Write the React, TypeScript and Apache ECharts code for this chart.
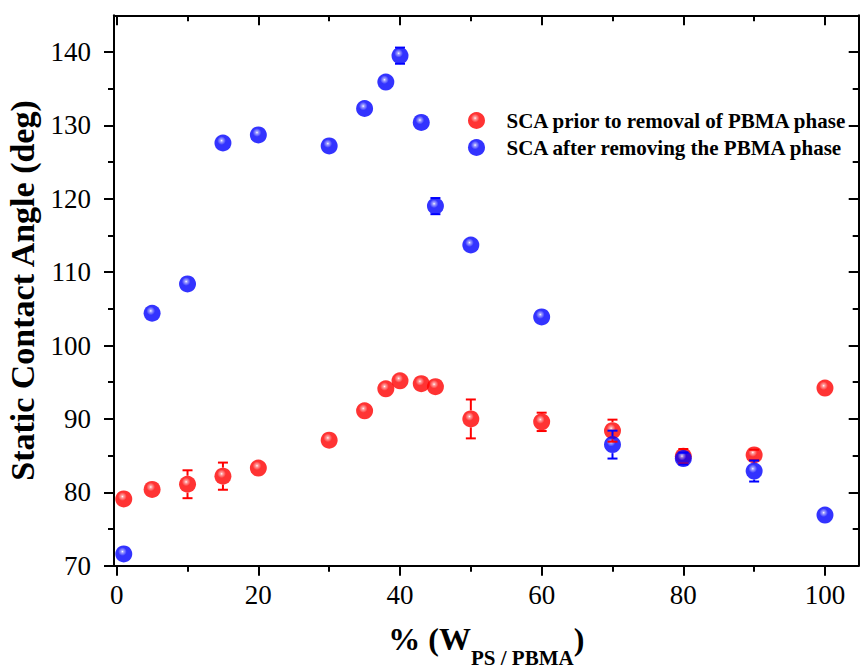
import React, { useEffect, useRef } from "react";
import * as echarts from "echarts";

// ---- data ----
const xValues = [1, 5, 10, 15, 20, 30, 35, 38, 40, 43, 45, 50, 60, 70, 80, 90, 100];
const redValues = [79.1, 80.4, 81.1, 82.2, 83.3, 87.1, 91.1, 94.1, 95.2, 94.8, 94.4, 90.0, 89.6, 88.4, 84.9, 85.1, 94.2];
const redErrors = [0, 0, 1.9, 1.85, 0, 0, 0, 0, 0, 0, 0, 2.65, 1.25, 1.5, 1.0, 0.7, 0];
const blueValues = [71.6, 104.4, 108.4, 127.6, 128.7, 127.2, 132.3, 135.9, 139.5, 130.4, 119.0, 113.7, 103.9, 86.5, 84.6, 82.9, 76.9];
const blueErrors = [0, 0, 0, 0, 0, 0, 0, 0, 1.1, 0, 1.1, 0, 0, 1.9, 0.8, 1.43, 0];

const xMajorTicks = [0, 20, 40, 60, 80, 100];
const xMinorTicks = [10, 30, 50, 70, 90];
const yMajorTicks = [70, 80, 90, 100, 110, 120, 130, 140];
const yMinorTicks = [75, 85, 95, 105, 115, 125, 135];

const redName = "SCA prior to removal of PBMA phase";
const blueName = "SCA after removing the PBMA phase";

const FONT = "'Liberation Serif', 'Times New Roman', serif";
const X_MIN = -0.38;
const X_MAX = 104.76;
const Y_MIN = 70;
const Y_MAX = 145;

const ball = (base: string, light: string) =>
  new echarts.graphic.RadialGradient(0.42, 0.36, 0.6, [
    { offset: 0, color: "#ffffff" },
    { offset: 0.12, color: light },
    { offset: 0.42, color: base },
    { offset: 1, color: base },
  ]);

const MARKER = 17;

function errorSeries(name: string, values: number[], errors: number[], color: string) {
  return {
    type: "custom",
    name: name + " error",
    silent: true,
    z: 5,
    data: xValues.map((x, i) => [x, values[i] - errors[i], values[i] + errors[i], values[i], errors[i]]),
    encode: { x: 0, y: [1, 2] },
    renderItem: (_params: any, api: any) => {
      const err = api.value(4);
      if (!err) return { type: "group", children: [] };
      const x = api.value(0);
      const lo = api.coord([x, api.value(1)]);
      const hi = api.coord([x, api.value(2)]);
      const c = api.coord([x, api.value(3)]);
      const hw = 5;
      const r = MARKER / 2;
      const style = { stroke: color, lineWidth: 2 };
      const children: any[] = [
        { type: "line", shape: { x1: hi[0] - hw, y1: hi[1], x2: hi[0] + hw, y2: hi[1] }, style },
        { type: "line", shape: { x1: lo[0] - hw, y1: lo[1], x2: lo[0] + hw, y2: lo[1] }, style },
      ];
      if (c[1] - hi[1] > r) {
        children.push({ type: "line", shape: { x1: c[0], y1: c[1] - r, x2: c[0], y2: hi[1] }, style });
      }
      if (lo[1] - c[1] > r) {
        children.push({ type: "line", shape: { x1: c[0], y1: c[1] + r, x2: c[0], y2: lo[1] }, style });
      }
      return { type: "group", children };
    },
  };
}

const axisLineStyle = { color: "#000", width: 2 };

function xAxisDef(position: "top" | "bottom", ticks: number[], len: number, inside: boolean, main: boolean, showLine: boolean) {
  return {
    type: "value",
    min: X_MIN,
    max: X_MAX,
    position,
    axisLine: { show: showLine, onZero: false, lineStyle: axisLineStyle },
    axisTick: { show: true, inside, length: len, lineStyle: { color: "#000", width: 2 }, customValues: ticks },
    axisLabel: main
      ? { show: true, customValues: ticks, fontSize: 27, fontFamily: FONT, color: "#000", margin: 16 }
      : { show: false },
    splitLine: { show: false },
  };
}

function yAxisDef(position: "left" | "right", ticks: number[], len: number, inside: boolean, main: boolean, showLine: boolean) {
  return {
    type: "value",
    min: Y_MIN,
    max: Y_MAX,
    position,
    axisLine: { show: showLine, onZero: false, lineStyle: axisLineStyle },
    axisTick: { show: true, inside, length: len, lineStyle: { color: "#000", width: 2 }, customValues: ticks },
    axisLabel: main
      ? { show: true, customValues: ticks, fontSize: 27, fontFamily: FONT, color: "#000", margin: 23 }
      : { show: false },
    splitLine: { show: false },
  };
}

export default function App() {
  const ref = useRef<HTMLDivElement>(null);

  useEffect(() => {
    if (!ref.current) return;
    const chart = echarts.init(ref.current, null, { renderer: "svg" });

    const bottomMain: any = xAxisDef("bottom", xMajorTicks, 10, false, true, true);
    bottomMain.name = "{a|% (W}{b|PS / PBMA}{a|)}";
    bottomMain.nameLocation = "middle";
    bottomMain.nameGap = 44;
    bottomMain.nameTextStyle = {
      color: "#000",
      fontFamily: FONT,
      rich: {
        a: { fontSize: 32, fontWeight: "bold", fontFamily: FONT, color: "#000" },
        b: { fontSize: 21, fontWeight: "bold", fontFamily: FONT, color: "#000", padding: [38, 0, 0, 0] },
      },
    };

    const leftMain: any = yAxisDef("left", yMajorTicks, 10, false, true, true);
    leftMain.name = "Static Contact Angle (deg)";
    leftMain.nameLocation = "middle";
    leftMain.nameGap = 71;
    leftMain.nameTextStyle = { color: "#000", fontFamily: FONT, fontSize: 34, fontWeight: "bold" };

    const option: any = {
      animation: false,
      backgroundColor: "#ffffff",
      grid: { left: 114, right: 1.3, top: 15.3, bottom: 105.3, containLabel: false, outerBoundsMode: "none" },
      legend: {
        data: [redName, blueName],
        orient: "vertical",
        left: 468,
        top: 110,
        padding: 0,
        itemGap: 6,
        itemWidth: 50,
        itemHeight: 17,
        icon: "circle",
        textStyle: { fontFamily: FONT, fontSize: 21, fontWeight: "bold", color: "#000", lineHeight: 21 },
      },
      xAxis: [
        bottomMain,
        xAxisDef("bottom", xMinorTicks, 6, false, false, false),
        xAxisDef("top", xMajorTicks, 10, true, false, true),
        xAxisDef("top", xMinorTicks, 6, true, false, false),
      ],
      yAxis: [
        leftMain,
        yAxisDef("left", yMinorTicks, 6, false, false, false),
        yAxisDef("right", yMajorTicks, 10, true, false, true),
        yAxisDef("right", yMinorTicks, 6, true, false, false),
      ],
      series: [
        {
          type: "scatter",
          name: redName,
          symbol: "circle",
          symbolSize: MARKER,
          itemStyle: { color: ball("#ff0000", "#ff8c8c") },
          data: xValues.map((x, i) => [x, redValues[i]]),
          z: 3,
        },
        {
          type: "scatter",
          name: blueName,
          symbol: "circle",
          symbolSize: MARKER,
          itemStyle: { color: ball("#0000ff", "#8c8cff") },
          data: xValues.map((x, i) => [x, blueValues[i]]),
          z: 4,
        },
        errorSeries(redName, redValues, redErrors, "#ff0000"),
        errorSeries(blueName, blueValues, blueErrors, "#0000ff"),
      ],
    };
    chart.setOption(option);
    return () => chart.dispose();
  }, []);

  return (
    <div
      ref={ref}
      style={{ position: "absolute", left: 0, top: 0, width: 860, height: 671, background: "#fff" }}
    />
  );
}
